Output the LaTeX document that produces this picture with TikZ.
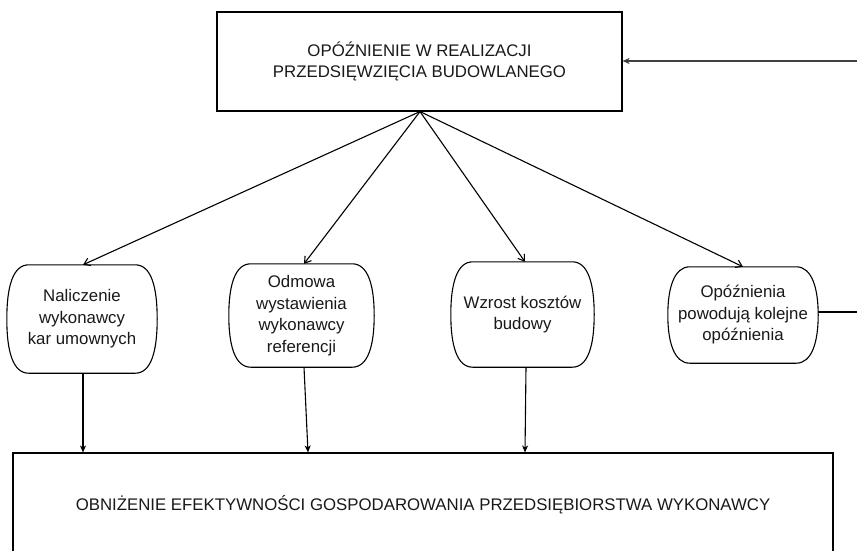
\documentclass[tikz,border=0pt]{standalone}
\usepackage{fontspec}
\setmainfont{Liberation Sans}
\usetikzlibrary{arrows.meta,calc}
\tikzset{
  boxline/.style={draw=black,line width=1.1pt},
  plainbox/.style={boxline,rectangle,inner sep=0pt,align=center,text=black!90,
    font=\fontsize{16.8}{21.5}\selectfont},
  bulgebox/.style={rectangle,inner sep=0pt,align=center,text=black!90,
    font=\fontsize{16.8}{21.5}\selectfont},
  conn/.style={draw=black,line width=1.1pt,-{Straight Barb[length=6pt,width=8pt,line width=1.1pt]}},
  vconn/.style={draw=black,line width=1.1pt,-{Stealth[length=7pt,width=6pt,inset=2pt]}},
  feed/.style={draw=black!75,line width=1.4pt},
}
\newcommand\bulgeshape[1]{%
  \draw[boxline] ([xshift=22pt]#1.north west) -- ([xshift=-22pt]#1.north east)
    .. controls ([xshift=-6pt]#1.north east) and ([yshift=-22pt]#1.north east) .. (#1.east)
    .. controls ([yshift=22pt]#1.south east) and ([xshift=-6pt]#1.south east) .. ([xshift=-22pt]#1.south east)
    -- ([xshift=22pt]#1.south west)
    .. controls ([xshift=6pt]#1.south west) and ([yshift=22pt]#1.south west) .. (#1.west)
    .. controls ([yshift=-22pt]#1.north west) and ([xshift=6pt]#1.north west) .. cycle;}
\begin{document}
\begin{tikzpicture}[x=1pt,y=-1pt]
\useasboundingbox (0,0) rectangle (857,550);
\clip (0,0) rectangle (857,550);
\fill[white] (0,0) rectangle (857,550);
% top box
\node[plainbox,minimum width=405pt,minimum height=99pt] (top) at (419.5,61.5)
  {OPÓŹNIENIE W REALIZACJI\\PRZEDSIĘWZIĘCIA BUDOWLANEGO};
% bulge boxes
\node[bulgebox,minimum width=150pt,minimum height=108pt] (b1) at (82,319)
  {Naliczenie\\wykonawcy\\kar umownych};
\node[bulgebox,minimum width=145pt,minimum height=103pt] (b2) at (301.5,315.5)
  {Odmowa\\wystawienia\\wykonawcy\\referencji};
\node[bulgebox,minimum width=143pt,minimum height=105pt] (b3) at (522.5,314.5)
  {Wzrost kosztów\\budowy};
\node[bulgebox,minimum width=150pt,minimum height=96pt] (b4) at (743,315)
  {Opóźnienia\\powodują kolejne\\opóźnienia};
\bulgeshape{b1}
\bulgeshape{b2}
\bulgeshape{b3}
\bulgeshape{b4}
% bottom box
\node[plainbox,minimum width=820pt,minimum height=104pt] (bot) at (423,505)
  {OBNIŻENIE EFEKTYWNOŚCI GOSPODAROWANIA PRZEDSIĘBIORSTWA WYKONAWCY};
% connectors from top
\coordinate (apex) at ([xshift=0.5pt]top.south);
\draw[conn] (apex) -- ([xshift=1pt]b1.north);
\draw[conn] (apex) -- ([xshift=2.5pt]b2.north);
\draw[conn] (apex) -- ([xshift=2.5pt]b3.north);
\draw[conn] (apex) -- (b4.north);
% connectors to bottom
\draw[vconn] ([xshift=1pt]b1.south) -- ([xshift=1pt]b1.south |- bot.north);
\draw[vconn] ([xshift=2.5pt]b2.south) -- ([xshift=6.5pt]b2.south |- bot.north);
\draw[vconn] ([xshift=3.5pt]b3.south) -- ([xshift=2.5pt]b3.south |- bot.north);
% feedback loop (cut at picture edge)
\coordinate (fb1) at (858,312);
\coordinate (fb2) at (858,61);
\draw[boxline] (b4.east |- fb1) -- (fb1);
\draw[feed,-{Stealth[length=7pt,width=6pt,inset=2pt]}] (fb2) -- (top.east |- fb2);
\end{tikzpicture}
\end{document}
